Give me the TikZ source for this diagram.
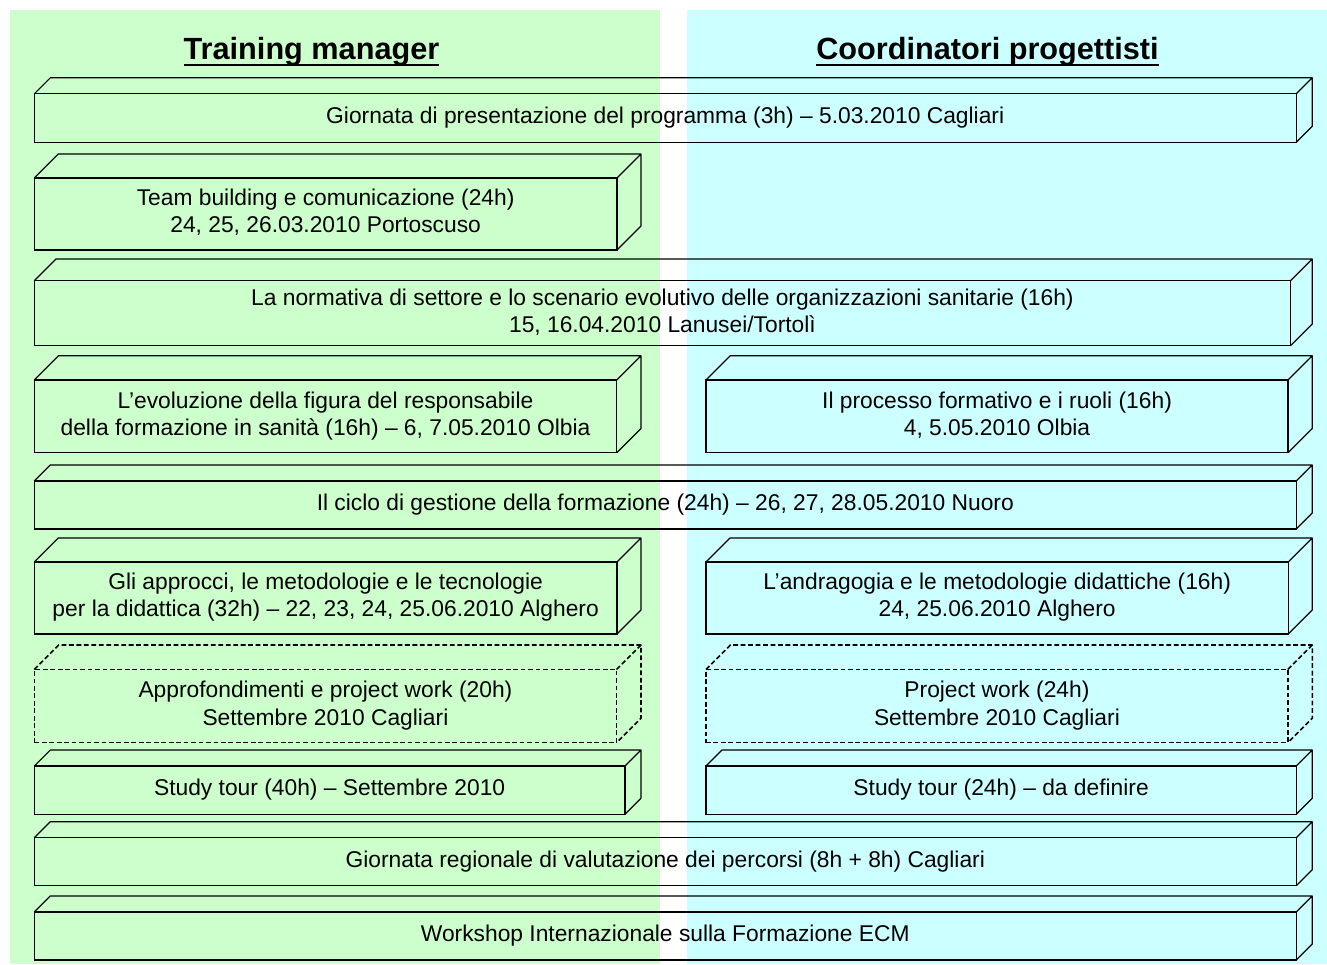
\documentclass[tikz,border=0pt]{standalone}
\usepackage{fontspec}
\setmainfont{Liberation Sans}

\definecolor{panelgreen}{RGB}{204,255,204}
\definecolor{panelcyan}{RGB}{204,255,255}

\tikzset{
  frontface/.style={draw=black,line width=.9pt,align=center,inner sep=0pt,
    outer sep=0pt,font=\fontsize{17.1}{20.3}\selectfont},
  edgeline/.style={draw=black,line width=.9pt,line join=round},
  planned/.style={line width=1.2pt,dash pattern=on 3.6pt off 2pt},
  coltitle/.style={font=\fontsize{23}{27}\selectfont\bfseries,inner sep=0pt,outer sep=0pt},
  titlerule/.style={line width=1.4pt}
}

% [style]{name}{left}{back right}{back top}{bottom}{text}, in pixels from the top
\newcommand{\cubeblock}[7][]{%
  \pgfmathsetmacro\depth{0.25*(#6-#5)}%
  \pgfmathsetmacro\frontw{#4-#3-\depth}%
  \pgfmathsetmacro\fronth{#6-#5-\depth}%
  \node[frontface,#1,minimum width=\frontw*0.75pt,minimum height=\fronth*0.75pt,
    anchor=south west] (#2) at (#3,964-#6) {\raisebox{-1.5pt}{\begin{tabular}{@{}c@{}}#7\end{tabular}}};
  \draw[edgeline,#1] (#2.north west) -- ++(\depth,\depth) -- ++(\frontw,0)
    -- ++(0,-\fronth) -- (#2.south east)
    (#2.north east) -- ++(\depth,\depth);
}

\begin{document}
\begin{tikzpicture}[x=.75pt,y=.75pt]
  \def\leftx{34.3}
  \def\rightx{1312.3}
  \def\midleft{641}
  \def\midright{706}

  \useasboundingbox (0,0) rectangle (1327,964);
  \fill[panelgreen] (10,0) rectangle (660,954);
  \fill[panelcyan] (687.3,0) rectangle (1327,954);

  \node[coltitle,anchor=base] (tmtitle) at (311.5,964-60) {Training manager};
  \node[coltitle,anchor=base] (cptitle) at (987.5,964-60) {Coordinatori progettisti};
  \foreach \t in {tmtitle,cptitle}
    \draw[titlerule] ([yshift=-4pt]\t.base west) -- ([yshift=-4pt]\t.base east);

  \cubeblock{presentazione}{\leftx}{\rightx}{77.7}{142.3}
    {Giornata di presentazione del programma (3h) – 5.03.2010 Cagliari}
  \cubeblock{teambuilding}{\leftx}{\midleft}{154}{250}
    {Team building e comunicazione (24h)\\24, 25, 26.03.2010 Portoscuso}
  \cubeblock{normativa}{\leftx}{\rightx}{259}{345.7}
    {La normativa di settore e lo scenario evolutivo delle organizzazioni sanitarie (16h)\\15, 16.04.2010 Lanusei/Tortolì}
  \cubeblock{evoluzione}{\leftx}{\midleft}{355.7}{452.7}
    {L’evoluzione della figura del responsabile\\della formazione in sanità (16h) – 6, 7.05.2010 Olbia}
  \cubeblock{processo}{\midright}{\rightx}{355.7}{452.7}
    {Il processo formativo e i ruoli (16h)\\4, 5.05.2010 Olbia}
  \cubeblock{ciclo}{\leftx}{\rightx}{465}{529}
    {Il ciclo di gestione della formazione (24h) – 26, 27, 28.05.2010 Nuoro}
  \cubeblock{approcci}{\leftx}{\midleft}{538}{634}
    {Gli approcci, le metodologie e le tecnologie\\per la didattica (32h) – 22, 23, 24, 25.06.2010 Alghero}
  \cubeblock{andragogia}{\midright}{\rightx}{538}{634}
    {L’andragogia e le metodologie didattiche (16h)\\24, 25.06.2010 Alghero}
  \cubeblock[planned]{approfondimenti}{\leftx}{\midleft}{645}{742.7}
    {Approfondimenti e project work (20h)\\Settembre 2010 Cagliari}
  \cubeblock[planned]{projectwork}{\midright}{\rightx}{645}{742.7}
    {Project work (24h)\\Settembre 2010 Cagliari}
  \cubeblock{tourtm}{\leftx}{\midleft}{750}{814.3}
    {Study tour (40h) – Settembre 2010}
  \cubeblock{tourcp}{\midright}{\rightx}{750}{814.3}
    {Study tour (24h) – da definire}
  \cubeblock{valutazione}{\leftx}{\rightx}{821.7}{885.7}
    {Giornata regionale di valutazione dei percorsi (8h + 8h) Cagliari}
  \cubeblock{workshop}{\leftx}{\rightx}{896}{960}
    {Workshop Internazionale sulla Formazione ECM}
\end{tikzpicture}
\end{document}
